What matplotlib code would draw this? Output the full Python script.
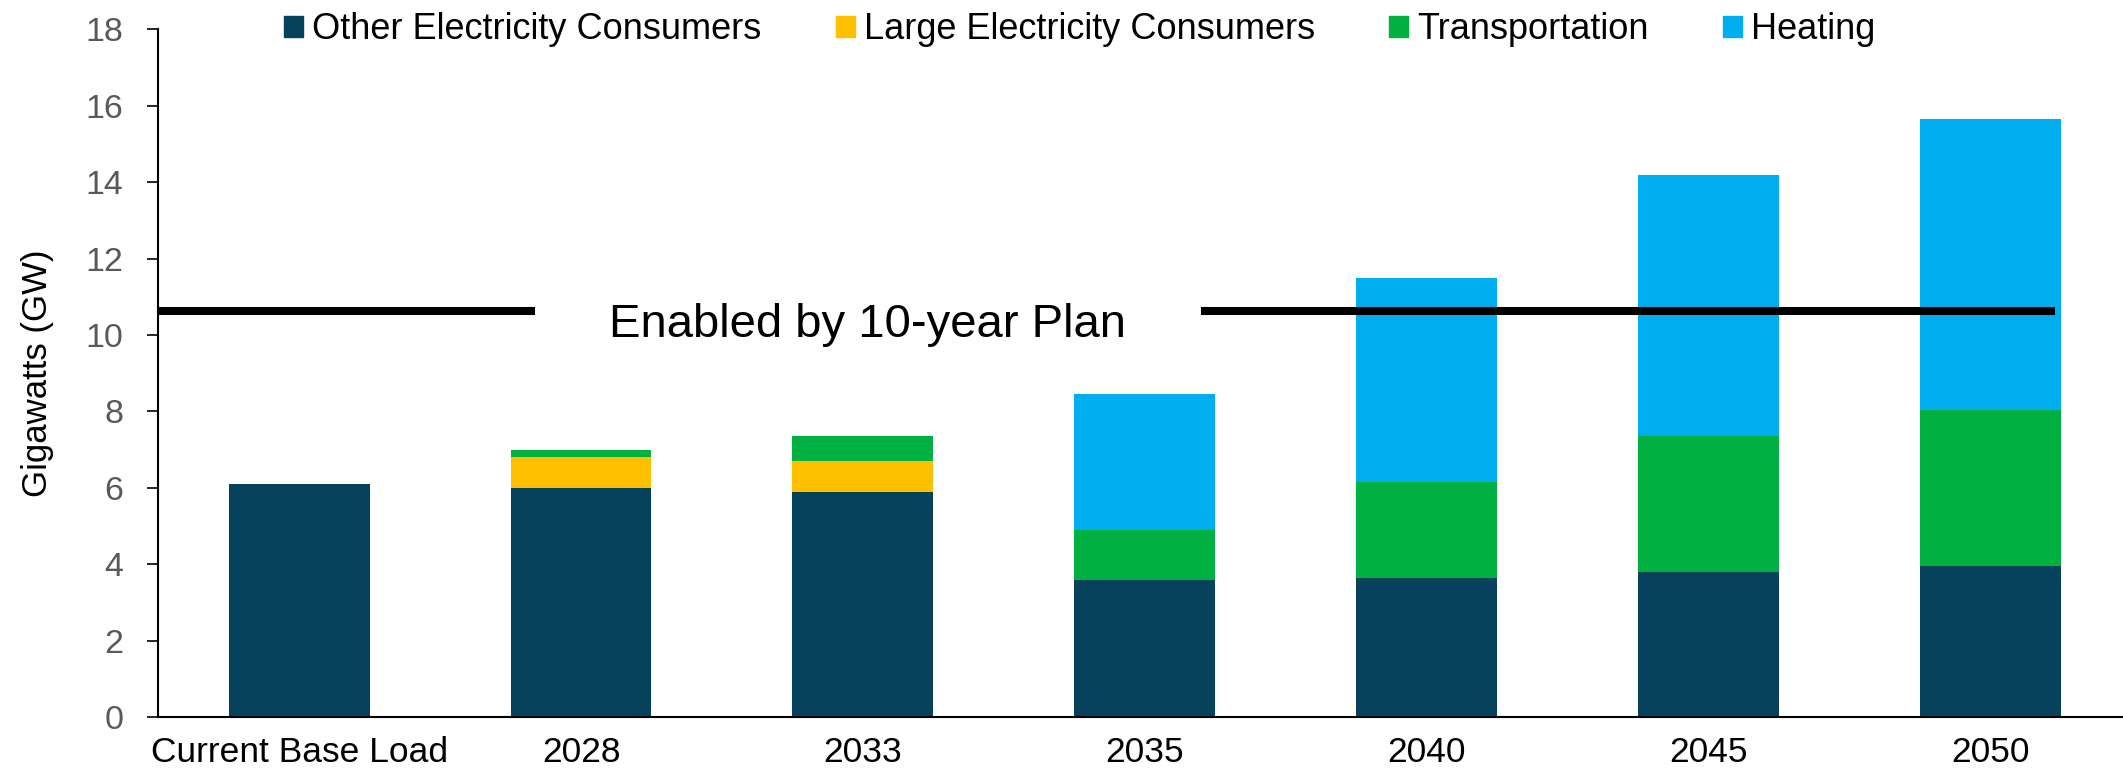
import numpy as np
import matplotlib
matplotlib.use("Agg")
import matplotlib.pyplot as plt
from matplotlib.patches import Patch

plt.rcParams['font.family'] = ['Liberation Sans', 'DejaVu Sans']

categories = ['Current Base Load', '2028', '2033', '2035', '2040', '2045', '2050']
other = [6.1, 6.0, 5.9, 3.6, 3.65, 3.8, 3.95]
large = [0, 0.8, 0.8, 0, 0, 0, 0]
transport = [0, 0.2, 0.65, 1.3, 2.5, 3.55, 4.1]
heating = [0, 0, 0, 3.55, 5.35, 6.85, 7.6]
series_names = ['Other Electricity Consumers', 'Large Electricity Consumers',
                'Transportation', 'Heating']
colors = ['#06425C', '#FFC000', '#00B040', '#00AEEF']
plan_level = 10.63

fig = plt.figure(figsize=(21.23, 7.76), dpi=100)
ax = fig.add_axes([0.0745, 0.076, 0.9255, 0.886])

x = np.arange(len(categories))
bottom = np.zeros(len(categories))
for vals, c in zip([other, large, transport, heating], colors):
    ax.bar(x, vals, 0.5, bottom=bottom, color=c, zorder=2)
    bottom += np.array(vals)

ax.set_xlim(-0.5, 6.47)
ax.set_ylim(0, 18)
ax.set_yticks(range(0, 19, 2))
ax.set_xticks(x)
ax.set_xticklabels(categories, fontsize=25.5, color='black')
ax.tick_params(axis='x', length=0, pad=14)
ax.tick_params(axis='y', labelsize=24.5, labelcolor='#595959', length=8,
               width=1.2, pad=17)

for s in ['top', 'right']:
    ax.spines[s].set_visible(False)
for s in ['left', 'bottom']:
    ax.spines[s].set_linewidth(1.5)

ax.set_ylabel('Gigawatts (GW)', fontsize=25)
ax.yaxis.set_label_coords(-0.053, 0.5)

# plan line with text gap
ax.plot([-0.5, 0.837], [plan_level, plan_level], color='black', lw=5.8,
        solid_capstyle='butt', zorder=3)
ax.plot([3.2, 6.23], [plan_level, plan_level], color='black', lw=5.8,
        solid_capstyle='butt', zorder=3)
ax.text(2.016, 9.96, 'Enabled by 10-year Plan', fontsize=34, ha='center',
        va='baseline', color='black')

handles = [Patch(color=c, label=n) for c, n in zip(colors, series_names)]
fig.legend(handles=handles, loc='center', bbox_to_anchor=(0.5085, 0.962),
           ncol=4, frameon=False, fontsize=26, handlelength=0.53,
           handleheight=0.53, handletextpad=0.25, columnspacing=2.05,
           borderpad=0)

fig.savefig('out.png', dpi=100)
